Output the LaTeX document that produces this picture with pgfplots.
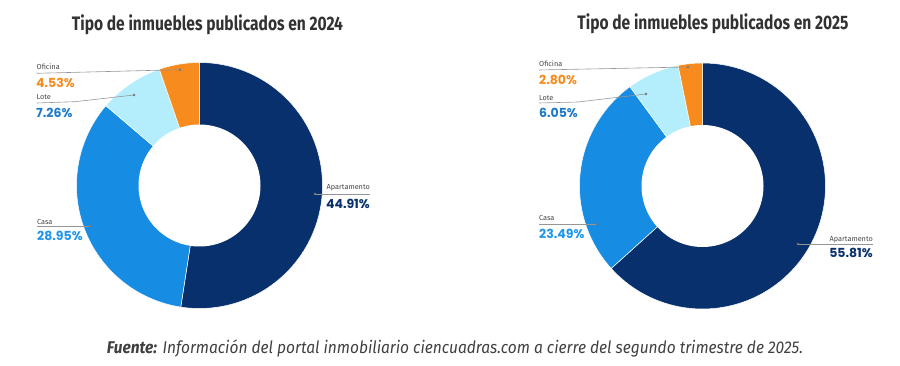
\documentclass[border=0pt]{standalone}
\usepackage{pgfplots}
\pgfplotsset{compat=1.18}
\usepackage{pgfplotstable}
\usepackage{graphicx}
\usepackage{fontspec}
\setmainfont{Fira Sans}
\newfontfamily\pctfont{Poppins}
\definecolor{navy}{RGB}{7,48,108}
\definecolor{midblue}{RGB}{22,140,226}
\definecolor{lightcyan}{RGB}{180,237,252}
\definecolor{orangeC}{RGB}{247,139,30}
\definecolor{loteTxt}{RGB}{28,122,200}
\definecolor{casaTxt}{RGB}{30,150,236}
\definecolor{titleC}{RGB}{50,50,50}
\definecolor{leader}{RGB}{150,150,150}
\definecolor{catTxt}{RGB}{70,70,70}

\pgfplotstableread{
cat value
Apartamento 44.91
Casa 28.95
Lote 7.26
Oficina 4.53
}\dataA
\pgfplotstableread{
cat value
Apartamento 55.81
Casa 23.49
Lote 6.05
Oficina 2.80
}\dataB

\pgfplotstablegetelem{0}{value}\of\dataA\let\Aa\pgfplotsretval
\pgfplotstablegetelem{1}{value}\of\dataA\let\Ab\pgfplotsretval
\pgfplotstablegetelem{2}{value}\of\dataA\let\Ac\pgfplotsretval
\pgfplotstablegetelem{3}{value}\of\dataA\let\Ad\pgfplotsretval
\pgfmathsetmacro\As{\Aa+\Ab+\Ac+\Ad}
\pgfmathsetmacro\Ae{3.6*(\Aa/\As)*100}
\pgfmathsetmacro\Af{\Ae+3.6*(\Ab/\As)*100}
\pgfmathsetmacro\Ag{\Af+3.6*(\Ac/\As)*100}

\pgfplotstablegetelem{0}{value}\of\dataB\let\Ba\pgfplotsretval
\pgfplotstablegetelem{1}{value}\of\dataB\let\Bb\pgfplotsretval
\pgfplotstablegetelem{2}{value}\of\dataB\let\Bc\pgfplotsretval
\pgfplotstablegetelem{3}{value}\of\dataB\let\Bd\pgfplotsretval
\pgfmathsetmacro\Bs{\Ba+\Bb+\Bc+\Bd}
\pgfmathsetmacro\Be{3.6*(\Ba/\Bs)*100}
\pgfmathsetmacro\Bf{\Be+3.6*(\Bb/\Bs)*100}
\pgfmathsetmacro\Bg{\Bf+3.6*(\Bc/\Bs)*100}

\newcommand\titletext[1]{\resizebox{271pt}{\height}{\fontsize{19.5}{22}\selectfont\bfseries #1}}
\newcommand\cattext[1]{{\fontsize{7.3}{9}\selectfont #1}}
\newcommand\pcttext[1]{{\pctfont\bfseries\fontsize{12.5}{14}\selectfont #1}}

\begin{document}
\begin{tikzpicture}
\begin{axis}[x=1pt, y=1pt, xmin=0, xmax=900, ymin=0, ymax=365,
  hide axis, clip=false, scale only axis]
\path (axis cs:0,0) rectangle (axis cs:900,365);
% ---- 2024 donut
\addplot[fill=navy, draw=white, line width=0.5pt, domain=0:\Ae, samples=100, variable=\t]
  ({199.5+123*sin(\t)},{179.5+123*cos(\t)}) -- (axis cs:199.5,179.5) -- cycle;
\addplot[fill=midblue, draw=white, line width=0.5pt, domain=\Ae:\Af, samples=80, variable=\t]
  ({199.5+123*sin(\t)},{179.5+123*cos(\t)}) -- (axis cs:199.5,179.5) -- cycle;
\addplot[fill=lightcyan, draw=white, line width=0.5pt, domain=\Af:\Ag, samples=30, variable=\t]
  ({199.5+123*sin(\t)},{179.5+123*cos(\t)}) -- (axis cs:199.5,179.5) -- cycle;
\addplot[fill=orangeC, draw=white, line width=0.5pt, domain=\Ag:360, samples=30, variable=\t]
  ({199.5+123*sin(\t)},{179.5+123*cos(\t)}) -- (axis cs:199.5,179.5) -- cycle;
\addplot[fill=white, draw=none, domain=0:360, samples=120, variable=\t]
  ({199.5+61*cos(\t)},{179.5+61*sin(\t)}) -- cycle;
% ---- 2025 donut
\addplot[fill=navy, draw=white, line width=0.5pt, domain=0:\Be, samples=100, variable=\t]
  ({702.5+123*sin(\t)},{179+123*cos(\t)}) -- (axis cs:702.5,179) -- cycle;
\addplot[fill=midblue, draw=white, line width=0.5pt, domain=\Be:\Bf, samples=80, variable=\t]
  ({702.5+123*sin(\t)},{179+123*cos(\t)}) -- (axis cs:702.5,179) -- cycle;
\addplot[fill=lightcyan, draw=white, line width=0.5pt, domain=\Bf:\Bg, samples=30, variable=\t]
  ({702.5+123*sin(\t)},{179+123*cos(\t)}) -- (axis cs:702.5,179) -- cycle;
\addplot[fill=orangeC, draw=white, line width=0.5pt, domain=\Bg:360, samples=30, variable=\t]
  ({702.5+123*sin(\t)},{179+123*cos(\t)}) -- (axis cs:702.5,179) -- cycle;
\addplot[fill=white, draw=none, domain=0:360, samples=120, variable=\t]
  ({702.5+61*cos(\t)},{179+61*sin(\t)}) -- cycle;

% ---- leader lines
\addplot[leader, line width=0.6pt] coordinates {(36.7,291.7) (180,295.3)};
\addplot[leader, line width=0.6pt] coordinates {(36.7,262) (75,263.3) (134,270)};
\addplot[leader, line width=0.6pt] coordinates {(37,139) (90,139)};
\addplot[leader, line width=0.6pt] coordinates {(315,171) (370,171)};
\addplot[leader, line width=0.6pt] coordinates {(539,295) (688,298)};
\addplot[leader, line width=0.6pt] coordinates {(539,262) (578,263) (646,271)};
\addplot[leader, line width=0.6pt] coordinates {(539,141) (597,141)};
\addplot[leader, line width=0.6pt] coordinates {(798,121) (873,121)};
\addplot[only marks, mark=*, mark size=1.1pt, color=leader!80!black]
  coordinates {(180,295.3) (134,270) (90,139) (315,171) (688,298) (646,271) (597,141) (798,121)};

% ---- labels 2024
\node[anchor=west, inner sep=0, text=catTxt] at (axis cs:36.5,298) {\cattext{Oficina}};
\node[anchor=west, inner sep=0, text=orangeC] at (axis cs:36,282.5) {\pcttext{4.53\%}};
\node[anchor=west, inner sep=0, text=catTxt] at (axis cs:36.5,267.5) {\cattext{Lote}};
\node[anchor=west, inner sep=0, text=loteTxt] at (axis cs:36,252.5) {\pcttext{7.26\%}};
\node[anchor=west, inner sep=0, text=catTxt] at (axis cs:37,143.5) {\cattext{Casa}};
\node[anchor=west, inner sep=0, text=casaTxt] at (axis cs:37,129.5) {\pcttext{28.95\%}};
\node[anchor=east, inner sep=0, text=catTxt] at (axis cs:370,177) {\cattext{Apartamento}};
\node[anchor=east, inner sep=0, text=navy] at (axis cs:370,161.5) {\pcttext{44.91\%}};
% ---- labels 2025
\node[anchor=west, inner sep=0, text=catTxt] at (axis cs:539,301) {\cattext{Oficina}};
\node[anchor=west, inner sep=0, text=orangeC] at (axis cs:539,285) {\pcttext{2.80\%}};
\node[anchor=west, inner sep=0, text=catTxt] at (axis cs:539,267) {\cattext{Lote}};
\node[anchor=west, inner sep=0, text=loteTxt] at (axis cs:539,252) {\pcttext{6.05\%}};
\node[anchor=west, inner sep=0, text=catTxt] at (axis cs:539,147) {\cattext{Casa}};
\node[anchor=west, inner sep=0, text=casaTxt] at (axis cs:539,131) {\pcttext{23.49\%}};
\node[anchor=east, inner sep=0, text=catTxt] at (axis cs:873,125) {\cattext{Apartamento}};
\node[anchor=east, inner sep=0, text=navy] at (axis cs:873,112) {\pcttext{55.81\%}};

% ---- titles
\node[anchor=base, inner sep=0, text=titleC] at (axis cs:207.5,334) {\titletext{Tipo de inmuebles publicados en 2024}};
\node[anchor=base, inner sep=0, text=titleC] at (axis cs:713,335) {\titletext{Tipo de inmuebles publicados en 2025}};
% ---- footer
\node[anchor=base, inner sep=0, text=black!75] at (axis cs:455,12) {\resizebox{696pt}{\height}{\fontsize{17}{20}\selectfont\itshape\textbf{Fuente:} Información del portal inmobiliario ciencuadras.com a cierre del segundo trimestre de 2025.}};
\end{axis}
\end{tikzpicture}
\end{document}
